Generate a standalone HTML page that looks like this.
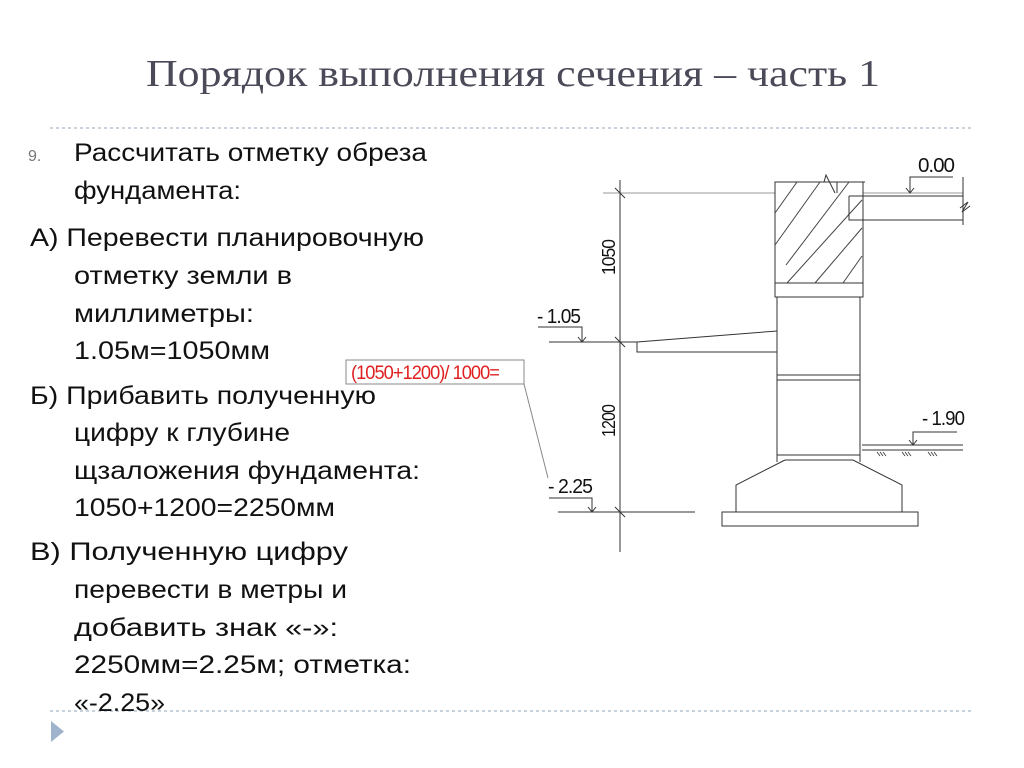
<!DOCTYPE html>
<html><head><meta charset="utf-8"><style>
html,body{margin:0;padding:0;background:#fff;width:1024px;height:768px;overflow:hidden}
svg{display:block}
.t{font-family:"Liberation Sans",sans-serif;font-size:25px;fill:#111}
.d{font-family:"Liberation Sans",sans-serif;fill:#111;letter-spacing:-1px}
</style></head><body>
<svg width="1024" height="768" viewBox="0 0 1024 768" xmlns="http://www.w3.org/2000/svg">
<text x="146" y="86" font-family="Liberation Serif,serif" font-size="38" fill="#4a4a58" textLength="734" lengthAdjust="spacingAndGlyphs">Порядок выполнения сечения – часть 1</text>
<line x1="50" y1="128" x2="972" y2="128" stroke="#a8b8c8" stroke-width="1.3" stroke-dasharray="3,3"/>
<line x1="50" y1="711" x2="972" y2="711" stroke="#a8b8c8" stroke-width="1.3" stroke-dasharray="3,3"/>
<polygon points="51,721 64,731.5 51,742" fill="#9fb4cc"/>
<text x="28" y="161" font-family="Liberation Sans,sans-serif" font-size="16" fill="#777">9.</text>
<g class="t">
<text x="74" y="161" textLength="353" lengthAdjust="spacingAndGlyphs">Рассчитать отметку обреза</text>
<text x="74" y="199" textLength="167" lengthAdjust="spacingAndGlyphs">фундамента:</text>
<text x="30" y="246" textLength="394" lengthAdjust="spacingAndGlyphs">А) Перевести планировочную</text>
<text x="74" y="284" textLength="218" lengthAdjust="spacingAndGlyphs">отметку земли в</text>
<text x="74" y="322" textLength="180" lengthAdjust="spacingAndGlyphs">миллиметры:</text>
<text x="74" y="359" textLength="196" lengthAdjust="spacingAndGlyphs">1.05м=1050мм</text>
<text x="30" y="404" textLength="346" lengthAdjust="spacingAndGlyphs">Б) Прибавить полученную</text>
<text x="74" y="441" textLength="216" lengthAdjust="spacingAndGlyphs">цифру к глубине</text>
<text x="74" y="479" textLength="346" lengthAdjust="spacingAndGlyphs">щзаложения фундамента:</text>
<text x="74" y="516" textLength="261" lengthAdjust="spacingAndGlyphs">1050+1200=2250мм</text>
<text x="30" y="560" textLength="318" lengthAdjust="spacingAndGlyphs">В) Полученную цифру</text>
<text x="74" y="598" textLength="273" lengthAdjust="spacingAndGlyphs">перевести в метры и</text>
<text x="74" y="636" textLength="264" lengthAdjust="spacingAndGlyphs">добавить знак «-»:</text>
<text x="74" y="673" textLength="337" lengthAdjust="spacingAndGlyphs">2250мм=2.25м; отметка:</text>
<text x="74" y="711" textLength="91" lengthAdjust="spacingAndGlyphs">«-2.25»</text>
</g>
<g stroke="#333" stroke-width="1" fill="none">
<line x1="620" y1="180" x2="620" y2="552"/>
<line x1="603" y1="193" x2="963" y2="193" stroke="#999"/>
<line x1="615" y1="188" x2="625" y2="198"/>
<line x1="615" y1="337" x2="625" y2="347"/>
<line x1="615" y1="507" x2="625" y2="517"/>
<rect x="775" y="182" width="88" height="115" fill="#fff"/>
<line x1="775" y1="283" x2="863" y2="283"/>
<g stroke="#444">
<line x1="775" y1="213" x2="797" y2="182"/>
<line x1="775" y1="245" x2="820" y2="182"/>
<line x1="786" y1="265" x2="849" y2="182"/>
<line x1="787" y1="283" x2="862" y2="200"/>
<line x1="815" y1="283" x2="862" y2="228"/>
<line x1="843" y1="283" x2="862" y2="256"/>
</g>
<polyline points="775,182 824,182 826,175 835,193"/>
<polyline points="837,193 837,182 865,182"/>
<path d="M849,196 H963 M849,196 V220 H963" />
<line x1="963" y1="177" x2="963" y2="225"/>
<polyline points="960,208 968,202 962,212 970,206"/>
<line x1="777" y1="297" x2="777" y2="462"/>
<line x1="860" y1="297" x2="860" y2="462"/>
<line x1="777" y1="375" x2="860" y2="375"/>
<line x1="777" y1="380" x2="860" y2="380"/>
<line x1="777" y1="455" x2="860" y2="455"/>
<polyline points="785,460 853,460 902,485 902,512 736,512 736,485 785,460"/>
<rect x="722" y="512" width="196" height="14"/>
<polygon points="637,342 777,331 777,352 637,352"/>
<line x1="549" y1="342" x2="637" y2="342"/>
<polyline points="538,327 582,327 582,342"/>
<polyline points="578,337 582,342 586,337"/>
<line x1="558" y1="512" x2="695" y2="512"/>
<polyline points="549,498 592,498 592,512"/>
<polyline points="588,507 592,512 596,507"/>
<line x1="862" y1="445" x2="963" y2="445"/>
<line x1="862" y1="450" x2="963" y2="450"/>
<polyline points="957,432 913,432 913,445"/>
<polyline points="909,440 913,445 917,440"/>
<g stroke-width="0.8"><path d="M877,452 l3,4 M880,452 l3,4 M883,452 l3,4 M902,452 l3,4 M905,452 l3,4 M908,452 l3,4 M928,452 l3,4 M931,452 l3,4 M934,452 l3,4"/></g>
<polyline points="953,177 910,177 910,193"/>
<polyline points="906,188 910,193 914,188"/>
<rect x="346" y="360" width="178" height="24" stroke="#888"/>
<line x1="524" y1="384" x2="548" y2="478" stroke="#888"/>
</g>
<g class="d">
<text x="351" y="379" font-size="19" textLength="148" lengthAdjust="spacingAndGlyphs" style="fill:#e02020">(1050+1200)/ 1000=</text>
<text x="537" y="323" font-size="20" textLength="43" lengthAdjust="spacingAndGlyphs">- 1.05</text>
<text x="548" y="493" font-size="20" textLength="44" lengthAdjust="spacingAndGlyphs">- 2.25</text>
<text x="922" y="425" font-size="20" textLength="42" lengthAdjust="spacingAndGlyphs">- 1.90</text>
<text x="918" y="172" font-size="20" textLength="36" lengthAdjust="spacingAndGlyphs">0.00</text>
<text transform="translate(615,275) rotate(-90)" font-size="18" textLength="35" lengthAdjust="spacingAndGlyphs">1050</text>
<text transform="translate(615,437) rotate(-90)" font-size="18" textLength="32" lengthAdjust="spacingAndGlyphs">1200</text>
</g>
</svg>
</body></html>
